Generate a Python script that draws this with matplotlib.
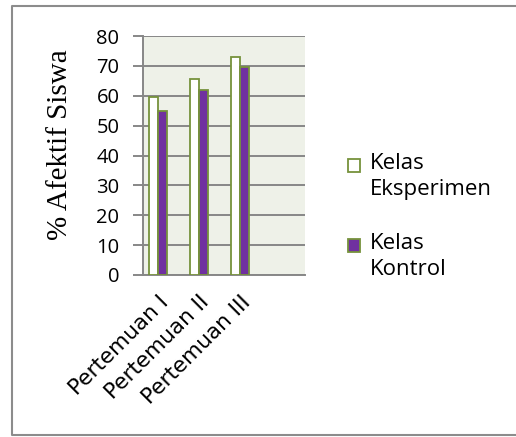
import matplotlib.pyplot as plt
from matplotlib.patches import Rectangle
import numpy as np

categories = ["Pertemuan I", "Pertemuan II", "Pertemuan III"]
eksperimen = [59.6, 65.5, 73.0]
kontrol = [55.0, 61.9, 69.7]
series_names = ["Kelas\nEksperimen", "Kelas\nKontrol"]
y_ticks = [0, 10, 20, 30, 40, 50, 60, 70, 80]

W, H = 516, 437
fig = plt.figure(figsize=(W / 100, H / 100), dpi=100)
ax = fig.add_axes([143 / W, 1 - 275 / H, 162 / W, 239 / H])
ax.set_facecolor("#EEF1E8")

x = np.arange(len(categories))
bw = 0.22
edge = "#76923C"
ax.bar(x - bw / 2, eksperimen, bw, color="white", edgecolor=edge, linewidth=1.3, zorder=3)
ax.bar(x + bw / 2, kontrol, bw, color="#7030A0", edgecolor=edge, linewidth=1.3, zorder=3)

ax.set_xlim(-0.366, 3.585)
ax.set_ylim(0, 80)
ax.set_yticks(y_ticks)
ax.set_yticklabels([str(t) for t in y_ticks], family="Open Sans", fontsize=14.5)
ax.yaxis.grid(True, color="#878787", linewidth=1.4, zorder=1)
ax.tick_params(axis="y", length=7, width=1.4, color="#878787", pad=10)
ax.tick_params(axis="x", length=0, pad=12)
for side in ["top", "right"]:
    ax.spines[side].set_visible(False)
ax.spines["left"].set_color("#878787")
ax.spines["left"].set_linewidth(1.4)
ax.spines["bottom"].set_color("#878787")
ax.spines["bottom"].set_linewidth(1.4)

ax.set_xticks(x)
ax.set_xticklabels(categories, rotation=45, ha="right", rotation_mode="anchor",
                   family="DejaVu Sans", fontsize=15.5)
ax.set_ylabel("% Afektif Siswa", family="Liberation Serif", fontsize=21)
ax.yaxis.set_label_coords(-0.43, 0.545)

# legend
colors = ["white", "#7030A0"]
ys = [165, 245]
for name, c, yy in zip(series_names, colors, ys):
    fig.patches.append(Rectangle((348 / W, 1 - (yy + 7) / H), 12 / W, 13 / H,
                                 transform=fig.transFigure, facecolor=c,
                                 edgecolor=edge, linewidth=1.3))
    fig.text(370 / W, 1 - (yy - 12) / H, name, family="Open Sans", fontsize=16,
             va="top", ha="left", linespacing=1.3)

# outer frame (no right side)
frame = dict(color="#8C8C8C", linewidth=1.5, transform=fig.transFigure)
fig.add_artist(plt.Line2D([1.0, 12 / W, 12 / W, 1.0],
                          [1 - 6 / H, 1 - 6 / H, 1 - 435 / H, 1 - 435 / H], **frame))

fig.savefig("out.png", dpi=100)
